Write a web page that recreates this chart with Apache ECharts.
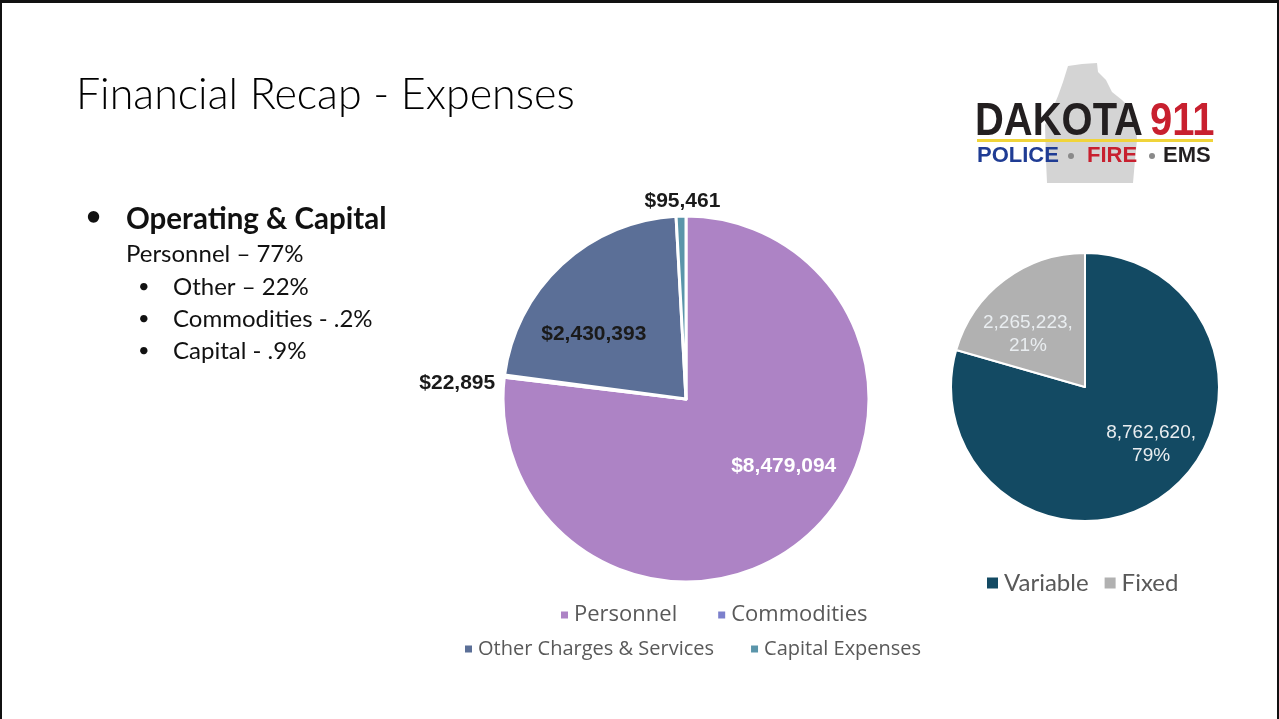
<!DOCTYPE html>
<html>
<head>
<meta charset="utf-8">
<script src="https://cdn.jsdelivr.net/npm/echarts@6/dist/echarts.min.js"></script>
<style>
  html, body { margin: 0; padding: 0; background: #ffffff; }
  #chart { width: 1279px; height: 719px; }
</style>
</head>
<body>
<div id="chart"></div>
<script>
// Expense categories (operating & capital) and their dollar amounts
const expenseCategories = ['Personnel', 'Commodities', 'Other Charges & Services', 'Capital Expenses'];
const expenseValues = [8479094, 22895, 2430393, 95461];
const expenseColors = ['#ad83c5', '#7c80cc', '#5b6f97', '#5a95aa'];

// Variable vs fixed split
const costTypes = ['Variable', 'Fixed'];
const costValues = [8762620, 2265223];
const costColors = ['#134a63', '#b1b1b1'];

// Slide text
const slideTitle = 'Financial Recap - Expenses';
const bulletHead = 'Operating & Capital';
const bulletLead = 'Personnel \u2013 77%';
const subBullets = ['Other \u2013 22%', 'Commodities - .2%', 'Capital - .9%'];

const fmt = v => v.toLocaleString('en-US');

// label placement per expense slice (inside/outside look)
const expenseLabelStyle = [
  { color: '#ffffff', offset: [35, -3] },
  { color: '#1a1a1a', offset: [-135, -4] },
  { color: '#1a1a1a', offset: [-28, 5] },
  { color: '#1a1a1a', offset: [-1, -103] }
];
const costLabelStyle = [
  { offset: [24, 1] },
  { offset: [-15, 3] }
];

const chart = echarts.init(document.getElementById('chart'), null, { renderer: 'canvas' });

const graphics = [
  // slide frame
  { type: 'rect', shape: { x: 0, y: 0, width: 1279, height: 3 }, style: { fill: '#111' }, silent: true },
  { type: 'rect', shape: { x: 0, y: 0, width: 2, height: 719 }, style: { fill: '#111' }, silent: true },
  { type: 'rect', shape: { x: 1277, y: 0, width: 2, height: 719 }, style: { fill: '#111' }, silent: true },
  // title
  { type: 'text', left: 76, top: 74, style: { text: slideTitle, font: '300 43px Lato', fill: '#000' } },
  // bullets
  { type: 'text', left: 86, top: 204, style: { text: '\u2022', font: 'bold 26px Lato', fill: '#111' } },
  { type: 'text', left: 126, top: 204, style: { text: bulletHead, font: 'bold 29.5px Lato', fill: '#111' } },
  { type: 'text', left: 126, top: 242, style: { text: bulletLead, font: '24px Lato', fill: '#111' } }
];
subBullets.forEach((t, i) => {
  graphics.push({ type: 'text', left: 138, top: 277 + i * 32, style: { text: '\u2022', font: '20px Lato', fill: '#111' } });
  graphics.push({ type: 'text', left: 173, top: 275 + i * 32, style: { text: t, font: '24px Lato', fill: '#111' } });
});

// logo: county silhouette, wordmark, rule and tagline
graphics.push({
  type: 'polygon', silent: true,
  shape: { points: [[1068, 66], [1082, 64], [1097, 63], [1098, 72], [1106, 80], [1112, 92], [1122, 100], [1130, 108], [1136, 118], [1137, 140], [1135, 160], [1133, 183], [1047, 183], [1046, 160], [1045, 125], [1052, 110], [1058, 96], [1063, 82]] },
  style: { fill: '#d4d4d4' }
});
graphics.push({ type: 'text', left: 975, top: 99, scaleX: 0.85, originX: 975, style: { text: 'DAKOTA', font: 'bold 47px "Liberation Sans"', fill: '#231f20' } });
graphics.push({ type: 'text', left: 1150, top: 99, scaleX: 0.85, originX: 1150, style: { text: '911', font: 'bold 47px "Liberation Sans"', fill: '#c8202f' } });
graphics.push({ type: 'rect', shape: { x: 977, y: 139, width: 236, height: 3 }, style: { fill: '#f0d43a' }, silent: true });
const tagFont = 'bold 22px "Liberation Sans"';
graphics.push({ type: 'text', left: 977, top: 145, style: { text: 'POLICE', font: tagFont, fill: '#1f3c94' } });
graphics.push({ type: 'circle', shape: { cx: 1071, cy: 156, r: 3 }, style: { fill: '#8a8a8a' }, silent: true });
graphics.push({ type: 'text', left: 1087, top: 145, style: { text: 'FIRE', font: tagFont, fill: '#c8202f' } });
graphics.push({ type: 'circle', shape: { cx: 1152, cy: 156, r: 3 }, style: { fill: '#8a8a8a' }, silent: true });
graphics.push({ type: 'text', left: 1163, top: 145, style: { text: 'EMS', font: tagFont, fill: '#231f20' } });

chart.setOption({
  animation: false,
  backgroundColor: '#ffffff',
  graphic: graphics,
  legend: [
    {
      data: expenseCategories.slice(0, 2),
      left: 554, top: 599,
      icon: 'rect', itemWidth: 9, itemHeight: 9, itemGap: 39,
      textStyle: { fontFamily: 'Open Sans', fontSize: 22, color: '#595959' }
    },
    {
      data: expenseCategories.slice(2),
      left: 458, top: 634,
      icon: 'rect', itemWidth: 9, itemHeight: 9, itemGap: 35,
      textStyle: { fontFamily: 'Open Sans', fontSize: 20, color: '#595959' }
    },
    {
      data: costTypes,
      left: 980, top: 566,
      icon: 'rect', itemWidth: 13, itemHeight: 13, itemGap: 14,
      textStyle: { fontFamily: 'Lato', fontSize: 24, color: '#595959' }
    }
  ],
  series: [
    {
      type: 'pie',
      name: 'Operating & Capital',
      center: [686, 399],
      radius: [0, 183],
      startAngle: 90,
      clockwise: true,
      avoidLabelOverlap: false,
      minShowLabelAngle: 0,
      itemStyle: { borderColor: '#ffffff', borderWidth: 3 },
      labelLine: { show: false },
      label: {
        show: true,
        position: 'inside',
        fontFamily: 'Liberation Sans',
        fontWeight: 'bold',
        fontSize: 21,
        formatter: p => '$' + fmt(p.value)
      },
      emphasis: { disabled: true },
      data: expenseCategories.map((n, i) => ({
        name: n,
        value: expenseValues[i],
        itemStyle: { color: expenseColors[i] },
        label: { color: expenseLabelStyle[i].color, offset: expenseLabelStyle[i].offset }
      }))
    },
    {
      type: 'pie',
      name: 'Variable vs Fixed',
      center: [1085, 387],
      radius: [0, 134],
      startAngle: 90,
      clockwise: true,
      avoidLabelOverlap: false,
      itemStyle: { borderColor: '#ffffff', borderWidth: 2 },
      labelLine: { show: false },
      label: {
        show: true,
        position: 'inside',
        fontFamily: 'Liberation Sans',
        fontSize: 19,
        lineHeight: 23,
        color: '#e9edf0',
        formatter: p => fmt(p.value) + ',\n' + Math.round(p.percent) + '%'
      },
      emphasis: { disabled: true },
      data: costTypes.map((n, i) => ({
        name: n,
        value: costValues[i],
        itemStyle: { color: costColors[i] },
        label: { offset: costLabelStyle[i].offset }
      }))
    }
  ]
});
</script>
</body>
</html>
